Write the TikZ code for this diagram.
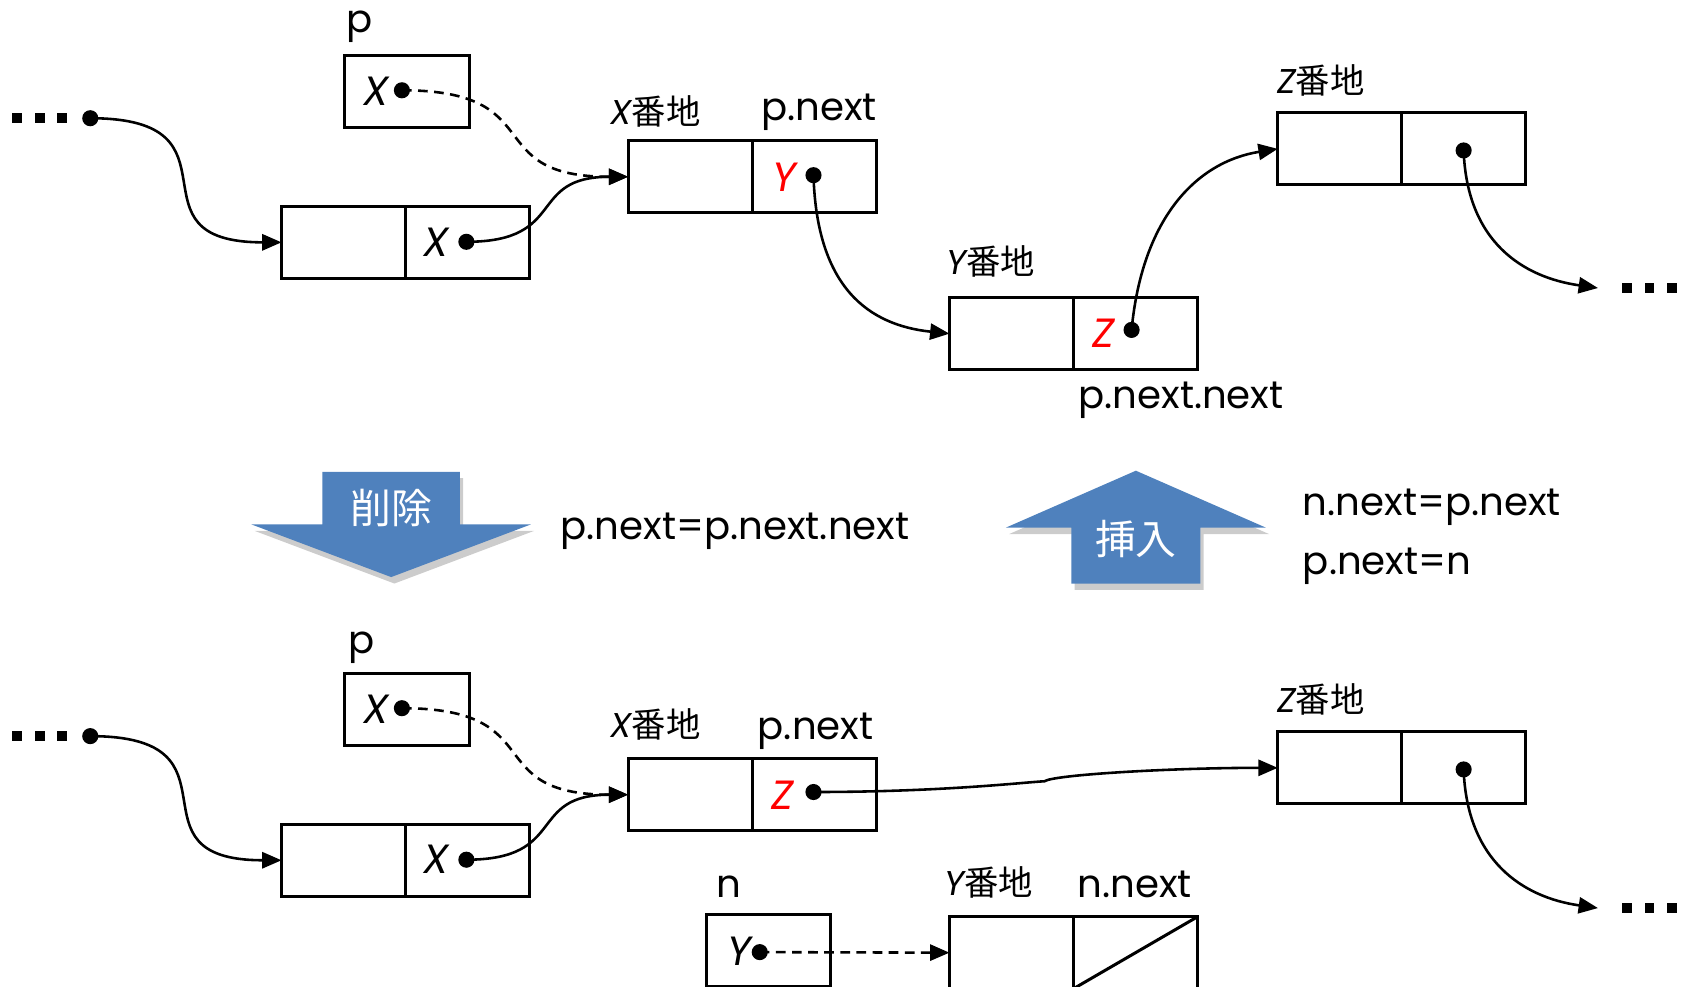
\documentclass[tikz,border=0pt]{standalone}
\usepackage{fontspec}
\setmainfont{Poppins}
\newfontfamily\cjk{Noto Sans CJK JP}
\usetikzlibrary{arrows.meta}
\definecolor{arrowblue}{HTML}{4F81BD}
\begin{document}
\begin{tikzpicture}[x=0.5pt,y=-0.5pt,
  lnode/.style={draw, line width=1.4pt, minimum width=115.5pt, minimum height=33.5pt, inner sep=0, outer sep=0},
  pbox/.style={draw, line width=1.4pt, minimum width=58pt, minimum height=33.5pt, inner sep=0, outer sep=0},
  ptr/.style={circle, fill, inner sep=0, minimum size=7.5pt},
  conn/.style={line width=1.2pt, -{Triangle[length=9pt,width=7.5pt]}},
  dconn/.style={conn, dash pattern=on 4.5pt off 3pt},
  lab/.style={font=\fontsize{18}{20}\selectfont, inner sep=0, anchor=base},
  addr/.style={font=\fontsize{16}{18}\selectfont, inner sep=0, anchor=base},
  val/.style={font=\fontsize{19}{20}\selectfont\itshape, inner sep=0},
  redval/.style={val, text=red},
  dotsq/.style={fill, minimum size=4.5pt, inner sep=0},
  shadowarrow/.style={fill=black, opacity=0.2},
  arrtext/.style={font=\cjk\fontsize{19}{22}\selectfont, text=white, inner sep=0}
]
\useasboundingbox (0,0) rectangle (1568,918);

% ================= TOP =================
\node[lab] (plab) at (335,30) {p};
\node[pbox] (P) at (379,85.5) {};
\node[val] (Px) at (350,85) {X};
\node[ptr] (Pd) at (374,84) {};

\foreach \i/\xx in {1/16,2/37,3/58}{\node[dotsq] (l\i) at (\xx,110) {};}
\node[ptr] (L0) at (84,110) {};

\node[lnode] (A) at (377.5,225.5) {};
\draw[line width=1.4pt] (A.north) -- (A.south);
\node[val] (Ax) at (406,225) {X};
\node[ptr] (Ad) at (434,225) {};

\node[addr] (Blab) at (610,116) {{\itshape X}{\cjk 番地}};
\node[lab] (Bnext) at (762,112) {p.next};
\node[lnode] (B) at (700,164.5) {};
\draw[line width=1.4pt] (B.north) -- (B.south);
\node[redval] (By) at (730,165) {Y};
\node[ptr] (Bd) at (757,163) {};

\node[addr] (Clab) at (922,255) {{\itshape Y}{\cjk 番地}};
\node[lnode] (C) at (999,310.5) {};
\draw[line width=1.4pt] (C.north) -- (C.south);
\node[redval] (Cz) at (1027,310) {Z};
\node[ptr] (Cd) at (1053,307) {};
\node[lab] (Cnn) at (1099,380) {p.next.next};

\node[addr] (Dlab) at (1229,87) {{\itshape Z}{\cjk 番地}};
\node[lnode] (D) at (1304.5,138.5) {};
\draw[line width=1.4pt] (D.north) -- (D.south);
\node[ptr] (Dd) at (1362,140) {};
\coordinate (E1) at (1487,268);
\foreach \i/\xx in {1/1514,2/1535,3/1556}{\node[dotsq] (r\i) at (\xx,268) {};}

\draw[conn] (L0.center) .. controls +(150,0) and +(-150,0) .. (A.west);
\draw[dconn] (Pd.center) .. controls +(140,0) and +(-140,0) .. (B.west);
\draw[conn] (Ad.center) .. controls +(95,0) and +(-95,0) .. (B.west);
\draw[conn] (Bd.center) .. controls +(3,105) and +(-75,-8) .. (C.west);
\draw[conn] (Cd.center) .. controls +(10,-105) and +(-75,12) .. (D.west);
\draw[conn] (Dd.center) .. controls +(3,85) and +(-70,-10) .. (E1);

% ================= MIDDLE =================
\fill[shadowarrow] ([shift={(3,6)}]300,439) -- ++(128,0) -- ++(0,49) -- ++(66,0) -- ++(-130,49) -- ++(-130,-49) -- ++(66,0) -- cycle;
\fill[arrowblue] (300,439) -- (428,439) -- (428,488) -- (494,488) -- (364,537) -- (234,488) -- (300,488) -- cycle;
\node[arrtext] (del) at (364,473) {削除};
\node[lab] (delcode) at (684,502) {p.next=p.next.next};

\fill[shadowarrow] ([shift={(3,6)}]1057,438) -- ++(121,53) -- ++(-61,0) -- ++(0,52) -- ++(-120,0) -- ++(0,-52) -- ++(-61,0) -- cycle;
\fill[arrowblue] (1057,438) -- (1178,491) -- (1117,491) -- (1117,543) -- (997,543) -- (997,491) -- (936,491) -- cycle;
\node[arrtext] (ins) at (1057,502) {挿入};
\node[lab, anchor=base west] (ins1) at (1212,480) {n.next=p.next};
\node[lab, anchor=base west] (ins2) at (1212,535) {p.next=n};

% ================= BOTTOM =================
\node[lab] (plab2) at (336,608) {p};
\node[pbox] (P2) at (379,660.5) {};
\node[val] (P2x) at (350,660) {X};
\node[ptr] (P2d) at (374,659) {};

\foreach \i/\xx in {1/16,2/37,3/58}{\node[dotsq] (m\i) at (\xx,685) {};}
\node[ptr] (L2) at (84,685) {};

\node[lnode] (A2) at (377.5,800.5) {};
\draw[line width=1.4pt] (A2.north) -- (A2.south);
\node[val] (A2x) at (406,800) {X};
\node[ptr] (A2d) at (434,800) {};

\node[addr] (B2lab) at (610,686) {{\itshape X}{\cjk 番地}};
\node[lab] (B2next) at (759,688) {p.next};
\node[lnode] (B2) at (700,739.5) {};
\draw[line width=1.4pt] (B2.north) -- (B2.south);
\node[redval] (B2z) at (728,740) {Z};
\node[ptr] (B2d) at (757,737) {};

\node[addr] (D2lab) at (1229,663) {{\itshape Z}{\cjk 番地}};
\node[lnode] (D2) at (1304.5,714.5) {};
\draw[line width=1.4pt] (D2.north) -- (D2.south);
\node[ptr] (D2d) at (1362,716) {};
\coordinate (E2) at (1487,845);
\foreach \i/\xx in {1/1514,2/1535,3/1556}{\node[dotsq] (s\i) at (\xx,845) {};}

\node[lab] (nlab) at (678,835) {n};
\node[pbox] (N) at (715,884.5) {};
\node[val] (Ny) at (688,885) {Y};
\node[ptr] (Nd) at (707,886) {};

\node[addr] (C2lab) at (920,833) {{\itshape Y}{\cjk 番地}};
\node[lab] (C2next) at (1056,835) {n.next};
\node[lnode] (C2) at (999,886.5) {};
\draw[line width=1.4pt] (C2.north) -- (C2.south);
\draw[line width=1.4pt] (C2.north east) -- (C2.south);

\draw[conn] (L2.center) .. controls +(150,0) and +(-150,0) .. (A2.west);
\draw[dconn] (P2d.center) .. controls +(140,0) and +(-140,0) .. (B2.west);
\draw[conn] (A2d.center) .. controls +(95,0) and +(-95,0) .. (B2.west);
\draw[conn] (B2d.center) .. controls +(120,0) and +(-20,1) .. ++(215,-10) coordinate (kink)
  .. controls +(8,-6) and +(-100,0) .. (D2.west);
\draw[dconn] (Nd.center) -- (C2.west);
\draw[conn] (D2d.center) .. controls +(3,85) and +(-70,-10) .. (E2);
\end{tikzpicture}
\end{document}
